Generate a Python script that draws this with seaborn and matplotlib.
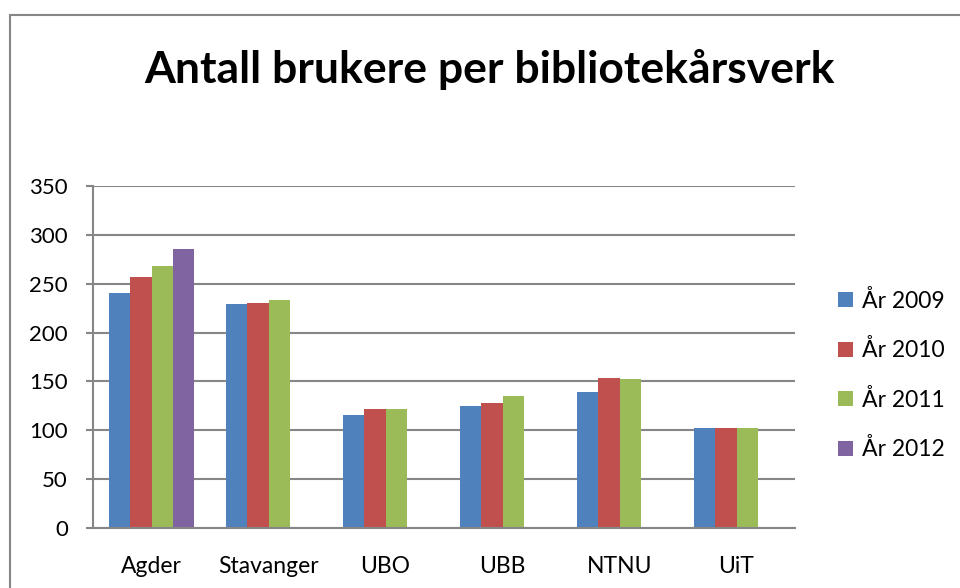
import matplotlib
matplotlib.use("Agg")
import matplotlib.pyplot as plt
from matplotlib.patches import Rectangle, Patch
import seaborn as sns
import pandas as pd

# Data
categories = ["Agder", "Stavanger", "UBO", "UBB", "NTNU", "UiT"]
series = ["År 2009", "År 2010", "År 2011", "År 2012"]
v2009 = [241, 229, 116, 125, 139, 102]
v2010 = [257, 230, 122, 128, 154, 102]
v2011 = [268, 233, 122, 135, 152, 102]
v2012 = [286, None, None, None, None, None]
colors = ["#4F81BD", "#C0504D", "#9BBB59", "#8064A2"]

sns.set_theme(style="white")
plt.rcParams["font.family"] = ["Lato", "DejaVu Sans"]
plt.rcParams["text.color"] = "black"
plt.rcParams["xtick.color"] = "black"
plt.rcParams["ytick.color"] = "black"

rows = []
for name, vals in zip(series, [v2009, v2010, v2011, v2012]):
    for cat, v in zip(categories, vals):
        if v is not None:
            rows.append({"Institusjon": cat, "Serie": name, "Verdi": v})
df = pd.DataFrame(rows)

grid_col = "#868686"

fig = plt.figure(figsize=(9.6, 5.88), dpi=100)
fig.patch.set_facecolor("white")

# outer chart-area frame (cropped on the right and bottom)
fig.patches.append(Rectangle((9.5 / 960, -0.1), 1.2, 0.1 + (588 - 15) / 588,
                             transform=fig.transFigure, fill=False,
                             edgecolor=grid_col, linewidth=1.5))

ax = fig.add_axes([93 / 960, 60 / 588, 702 / 960, 342 / 588])
sns.barplot(data=df, x="Institusjon", y="Verdi", hue="Serie",
            order=categories, hue_order=series, palette=colors,
            width=0.725, saturation=1, linewidth=0, ax=ax)

ax.set_ylim(0, 350)
ax.set_yticks(range(0, 351, 50))
ax.set_xlabel("")
ax.set_ylabel("")
ax.yaxis.grid(True, color=grid_col, linewidth=1.5)
ax.set_axisbelow(True)
for side in ["top", "right"]:
    ax.spines[side].set_visible(False)
for side in ["left", "bottom"]:
    ax.spines[side].set_color(grid_col)
    ax.spines[side].set_linewidth(1.5)
ax.tick_params(axis="y", left=True, length=5, width=1.5, color=grid_col,
               labelsize=16, pad=13, labelcolor="black")
ax.tick_params(axis="x", bottom=False, labelsize=16.5, pad=14,
               labelcolor="black")

ax.legend_.remove()
handles = [Patch(facecolor=c, edgecolor="none") for c in colors]
fig.legend(handles, series, loc="center left",
           bbox_to_anchor=(838 / 960, 1 - 375 / 588), frameon=False,
           fontsize=16.5, handlelength=0.65, handleheight=0.65,
           handletextpad=0.4, labelspacing=1.2,
           borderpad=0, borderaxespad=0)

fig.text(490 / 960, 1 - 70 / 588, "Antall brukere per bibliotekårsverk",
         ha="center", va="center", fontsize=32, fontweight="bold")

fig.savefig("out.png", dpi=100)
